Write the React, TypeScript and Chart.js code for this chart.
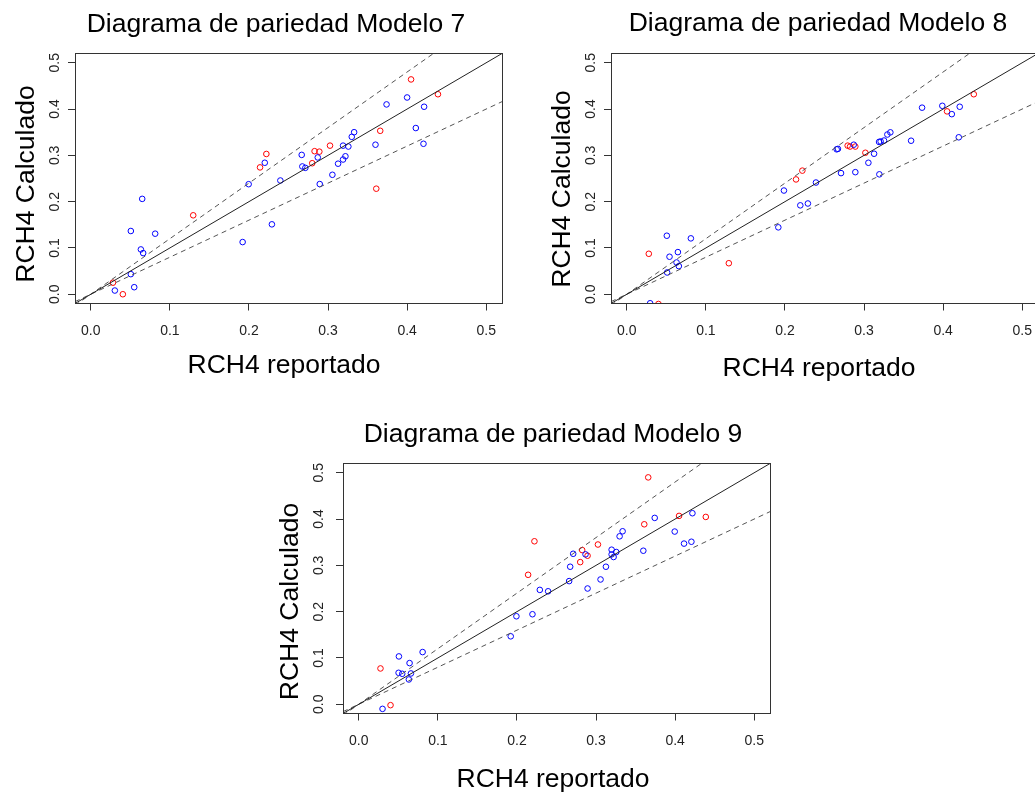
import { useEffect, useRef } from 'react';
import { Chart, registerables } from 'chart.js';

Chart.register(...registerables);

// Shared axis range (0–0.5 with R's usual 4 % expansion)
const AXIS_MIN = -0.02;
const AXIS_MAX = 0.52;
const AXIS_TICKS = [0, 0.1, 0.2, 0.3, 0.4, 0.5];
const TICK_LABELS = ['0.0', '0.1', '0.2', '0.3', '0.4', '0.5'];

// Reference lines: perfect agreement and the ±20 % band
const IDENTITY_SLOPE = 1;
const BAND_SLOPES = [1.2, 0.8];

const TITLES = [
  'Diagrama de pariedad Modelo 7',
  'Diagrama de pariedad Modelo 8',
  'Diagrama de pariedad Modelo 9',
];
const X_TITLE = 'RCH4 reportado';
const Y_TITLE = 'RCH4 Calculado';

// Modelo 7
const M7_BLUE_X = [0.400, 0.374, 0.4215, 0.411, 0.4207, 0.360, 0.333, 0.330, 0.3257, 0.319, 0.322, 0.319, 0.3127, 0.3055, 0.2895, 0.287, 0.2667, 0.2675, 0.2713, 0.2397, 0.220, 0.1996, 0.229, 0.192, 0.065, 0.0506, 0.0814, 0.0633, 0.0662, 0.0506, 0.0549, 0.0304];
const M7_BLUE_Y = [0.425, 0.410, 0.405, 0.359, 0.325, 0.323, 0.350, 0.340, 0.319, 0.321, 0.298, 0.291, 0.282, 0.258, 0.238, 0.2955, 0.301, 0.276, 0.273, 0.2457, 0.284, 0.2377, 0.151, 0.1127, 0.206, 0.1366, 0.1308, 0.0968, 0.0889, 0.0434, 0.0152, 0.008];
const M7_RED_X = [0.405, 0.439, 0.366, 0.361, 0.3025, 0.283, 0.289, 0.280, 0.222, 0.214, 0.1295, 0.028, 0.0405];
const M7_RED_Y = [0.464, 0.432, 0.353, 0.228, 0.321, 0.309, 0.308, 0.283, 0.303, 0.274, 0.1705, 0.025, 0.0];

// Modelo 8
const M8_BLUE_X = [0.3734, 0.399, 0.421, 0.411, 0.4198, 0.3595, 0.3333, 0.3295, 0.3253, 0.321, 0.319, 0.3127, 0.3055, 0.3194, 0.289, 0.2709, 0.267, 0.2654, 0.287, 0.2392, 0.1987, 0.2194, 0.229, 0.1916, 0.0506, 0.081, 0.054, 0.0646, 0.0629, 0.0658, 0.051, 0.0295];
const M8_BLUE_Y = [0.403, 0.407, 0.405, 0.389, 0.339, 0.3316, 0.3497, 0.345, 0.332, 0.330, 0.329, 0.3035, 0.284, 0.259, 0.2637, 0.2616, 0.314, 0.313, 0.323, 0.2413, 0.224, 0.192, 0.196, 0.1445, 0.1264, 0.1207, 0.081, 0.091, 0.0686, 0.0607, 0.047, -0.0195];
const M8_RED_X = [0.4388, 0.405, 0.3017, 0.2793, 0.2823, 0.289, 0.222, 0.214, 0.129, 0.0278, 0.040];
const M8_RED_Y = [0.432, 0.395, 0.3056, 0.321, 0.319, 0.319, 0.267, 0.248, 0.067, 0.0874, -0.021];

// Modelo 9
const M9_BLUE_X = [0.4219, 0.3742, 0.3995, 0.4113, 0.4206, 0.3598, 0.3336, 0.3298, 0.3197, 0.3197, 0.3256, 0.3222, 0.3125, 0.3057, 0.2893, 0.2867, 0.2711, 0.2673, 0.266, 0.2394, 0.2289, 0.1993, 0.2196, 0.1921, 0.0807, 0.0507, 0.0642, 0.0503, 0.0549, 0.0659, 0.0633, 0.030];
const M9_BLUE_Y = [0.4126, 0.4025, 0.373, 0.347, 0.351, 0.3316, 0.3736, 0.3627, 0.3338, 0.3237, 0.3288, 0.318, 0.297, 0.2695, 0.250, 0.3237, 0.325, 0.297, 0.266, 0.244, 0.247, 0.190, 0.1944, 0.1467, 0.1127, 0.1033, 0.0889, 0.0679, 0.0658, 0.0665, 0.0535, -0.010];
const M9_RED_X = [0.366, 0.405, 0.4388, 0.361, 0.3024, 0.2825, 0.2893, 0.280, 0.2221, 0.2141, 0.0274, 0.0401];
const M9_RED_Y = [0.490, 0.4068, 0.4046, 0.3887, 0.345, 0.333, 0.3208, 0.307, 0.352, 0.2796, 0.0773, -0.002];

const MODELS = [
  { blueX: M7_BLUE_X, blueY: M7_BLUE_Y, redX: M7_RED_X, redY: M7_RED_Y },
  { blueX: M8_BLUE_X, blueY: M8_BLUE_Y, redX: M8_RED_X, redY: M8_RED_Y },
  { blueX: M9_BLUE_X, blueY: M9_BLUE_Y, redX: M9_RED_X, redY: M9_RED_Y },
];

// Page placement of each panel (page pixels)
const PANELS = [
  { width: 1035, height: 793, area: { l: 75, t: 53.5, r: 502, b: 303.5 }, titleX: 276, titleY: 31.5, yTitleX: 33.5, yTitleY: 184, yTickX: 58.5, xTickY: 335, xTitleX: 284, xTitleY: 373 },
  { width: 1045, height: 793, area: { l: 611, t: 53.5, r: 1038, b: 303.5 }, titleX: 818, titleY: 30.5, yTitleX: 569.5, yTitleY: 189, yTickX: 594.5, xTickY: 335, xTitleX: 819, xTitleY: 376 },
  { width: 1035, height: 793, area: { l: 343, t: 463.5, r: 770, b: 713.5 }, titleX: 553, titleY: 441.5, yTitleX: 298, yTitleY: 601.5, yTickX: 323, xTickY: 745, xTitleX: 553, xTitleY: 787 },
];

const FONT_FAMILY = '"Liberation Sans", Arial, sans-serif';
const TITLE_SIZE = 26.5;
const AXIS_TITLE_SIZE = 26.5;
const TICK_SIZE = 14;
const INK = '#000000';
const TICK_INK = '#222222';
const FRAME_COLOR = '#333333';
const SOLID_COLOR = '#222222';
const DASH_COLOR = '#555555';
const POINT_RADIUS = 2.8;

const tickLabel = (v: number) => {
  const i = AXIS_TICKS.findIndex((t) => Math.abs(t - v) < 1e-9);
  return i >= 0 ? TICK_LABELS[i] : v.toFixed(1);
};

const halfPx = (v: number) => Math.round(v - 0.5) + 0.5;

function makeDecor(p: any, title: string) {
  return {
    id: 'parityDecor',
    afterDraw(chart: any) {
      const { ctx, chartArea: a, scales } = chart;
      const xs = scales.x;
      const ys = scales.y;
      ctx.save();

      // plot frame
      ctx.strokeStyle = FRAME_COLOR;
      ctx.lineWidth = 1;
      ctx.setLineDash([]);
      const l = halfPx(a.left), t = halfPx(a.top), r = halfPx(a.right), b = halfPx(a.bottom);
      ctx.strokeRect(l, t, r - l, b - t);

      // tick labels
      ctx.fillStyle = TICK_INK;
      ctx.font = `${TICK_SIZE}px ${FONT_FAMILY}`;
      ctx.textAlign = 'center';
      ctx.textBaseline = 'alphabetic';
      xs.ticks.forEach((tk: any) => {
        ctx.fillText(tickLabel(tk.value), xs.getPixelForValue(tk.value), p.xTickY);
      });
      ys.ticks.forEach((tk: any) => {
        ctx.save();
        ctx.translate(p.yTickX, ys.getPixelForValue(tk.value));
        ctx.rotate(-Math.PI / 2);
        ctx.fillText(tickLabel(tk.value), 0, 0);
        ctx.restore();
      });

      // titles
      ctx.fillStyle = INK;
      ctx.font = `${TITLE_SIZE}px ${FONT_FAMILY}`;
      ctx.fillText(title, p.titleX, p.titleY);
      ctx.font = `${AXIS_TITLE_SIZE}px ${FONT_FAMILY}`;
      ctx.fillText(X_TITLE, p.xTitleX, p.xTitleY);
      ctx.save();
      ctx.translate(p.yTitleX, p.yTitleY);
      ctx.rotate(-Math.PI / 2);
      ctx.fillText(Y_TITLE, 0, 0);
      ctx.restore();

      ctx.restore();
    },
  };
}

const pointSet = (xs: number[], ys: number[], color: string) => ({
  data: xs.map((x, i) => ({ x, y: ys[i] })),
  showLine: false,
  pointRadius: POINT_RADIUS,
  pointHoverRadius: POINT_RADIUS,
  pointBorderWidth: 1,
  pointBorderColor: color,
  pointBackgroundColor: 'rgba(0,0,0,0)',
  borderColor: color,
  backgroundColor: 'rgba(0,0,0,0)',
});

const refLine = (slope: number, dashed: boolean) => ({
  data: [AXIS_MIN, AXIS_MAX].map((x) => ({ x, y: slope * x })),
  showLine: true,
  pointRadius: 0,
  pointHoverRadius: 0,
  borderColor: dashed ? DASH_COLOR : SOLID_COLOR,
  borderWidth: 1,
  borderDash: dashed ? [5, 4] : [],
});

const axis = (fit: (s: any) => void) => ({
  type: 'linear' as const,
  min: AXIS_MIN,
  max: AXIS_MAX,
  afterBuildTicks: (s: any) => {
    s.ticks = AXIS_TICKS.map((value) => ({ value }));
  },
  afterFit: fit,
  ticks: { display: false },
  grid: {
    display: true,
    drawOnChartArea: false,
    drawTicks: true,
    tickLength: 7,
    color: FRAME_COLOR,
    tickColor: FRAME_COLOR,
    lineWidth: 1,
  },
  border: { display: false },
});

function ParityPanel({ index }: { index: number }) {
  const ref = useRef<HTMLCanvasElement | null>(null);
  const p = PANELS[index];
  const m = MODELS[index];

  useEffect(() => {
    if (!ref.current) return;
    const chart = new Chart(ref.current, {
      type: 'scatter',
      data: {
        datasets: [
          refLine(IDENTITY_SLOPE, false),
          ...BAND_SLOPES.map((s) => refLine(s, true)),
          pointSet(m.blueX, m.blueY, '#0000ff'),
          pointSet(m.redX, m.redY, '#ff0000'),
        ] as any,
      },
      options: {
        responsive: false,
        animation: false,
        devicePixelRatio: 1,
        events: [],
        layout: {
          autoPadding: false,
          padding: {
            left: p.area.l,
            top: p.area.t,
            right: p.width - p.area.r,
            bottom: p.height - p.area.b,
          },
        },
        plugins: {
          legend: { display: false },
          title: { display: false },
          tooltip: { enabled: false },
        },
        scales: {
          x: axis((s: any) => { s.height = 0; }),
          y: axis((s: any) => { s.width = 0; }),
        } as any,
      },
      plugins: [makeDecor(p, TITLES[index])],
    });
    return () => chart.destroy();
  }, [index]);

  return (
    <canvas
      ref={ref}
      width={p.width}
      height={p.height}
      style={{ position: 'absolute', left: 0, top: 0 }}
    />
  );
}

export default function App() {
  return (
    <div
      style={{
        position: 'absolute',
        left: 0,
        top: 0,
        width: 1035,
        height: 793,
        overflow: 'hidden',
        background: '#ffffff',
      }}
    >
      {PANELS.map((_, i) => (
        <ParityPanel key={i} index={i} />
      ))}
    </div>
  );
}
